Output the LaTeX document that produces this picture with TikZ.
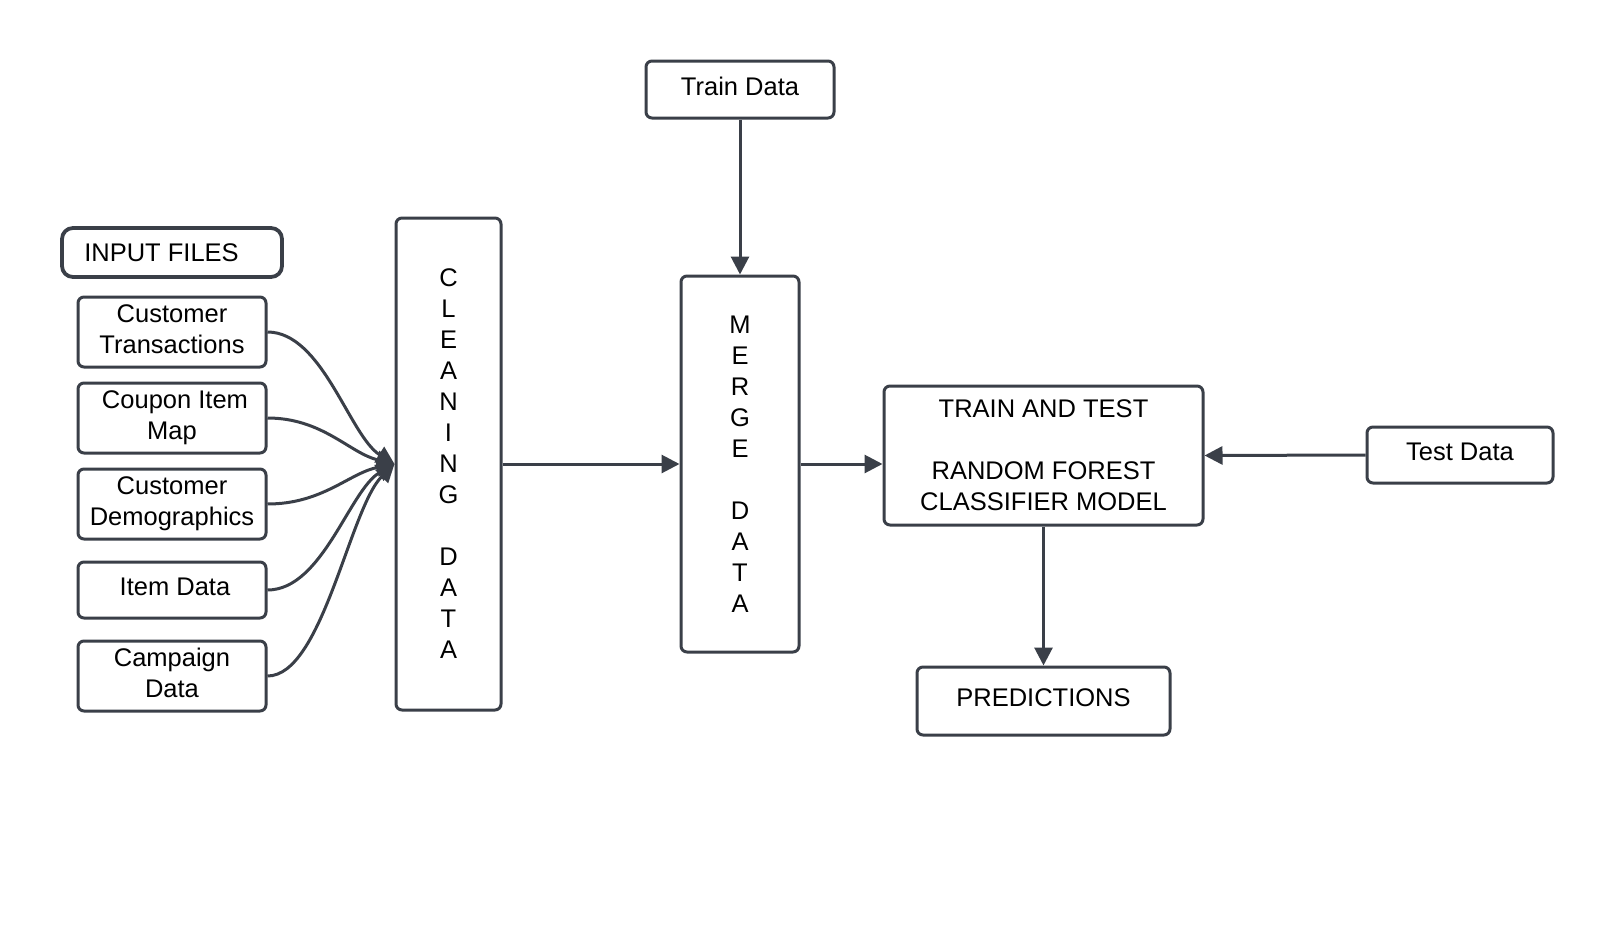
\documentclass[tikz,border=0pt]{standalone}
\usepackage{fontspec}
\setmainfont{Liberation Sans}
\usetikzlibrary{arrows.meta,calc}
\definecolor{ln}{RGB}{58,63,72}
\begin{document}
\begin{tikzpicture}[x=1pt,y=-1pt,
  box/.style={draw=ln,line width=3pt,rounded corners=6pt,fill=white,inner sep=0pt,align=center,
    font=\fontsize{25.5}{31}\selectfont},
  sbox/.style={box,text depth=6pt},
  conn/.style={draw=ln,line width=3pt,-{Triangle[length=18pt,width=18pt]}},
]
\useasboundingbox (0,0) rectangle (1615,929);

\node[box,line width=3.8pt,rounded corners=11pt,minimum width=220pt,minimum height=49pt] (inbox) at (172,252.5) {};
\node[font=\fontsize{25.5}{31}\selectfont,inner sep=0pt] (intext) at (161.5,253) {INPUT FILES};

\node[sbox,minimum width=188pt,minimum height=70pt] (ct) at (172,332) {Customer\\Transactions};
\node[box,minimum width=188pt,minimum height=70pt] (cim) at (172,418) {\hspace*{6pt}Coupon Item\\Map};
\node[box,minimum width=188pt,minimum height=70pt] (cd) at (172,504) {Customer\\Demographics};
\node[sbox,minimum width=188pt,minimum height=56pt] (item) at (172,590) {\hspace*{6pt}Item Data};
\node[sbox,minimum width=188pt,minimum height=70pt] (camp) at (172,676) {Campaign\\Data};

\node[box,minimum width=105pt,minimum height=492pt] (clean) at (448.5,464) {C\\L\\E\\A\\N\\I\\N\\G\\~\\D\\A\\T\\A};

\node[sbox,minimum width=188pt,minimum height=57pt] (train) at (740,89.5) {Train Data};
\node[box,minimum width=118pt,minimum height=376pt] (merge) at (740,464) {M\\E\\R\\G\\E\\~\\D\\A\\T\\A};

\node[box,minimum width=319pt,minimum height=139pt] (tt) at (1043.5,455.5) {TRAIN AND TEST\\~\\RANDOM FOREST\\CLASSIFIER MODEL};
\node[sbox,minimum width=186pt,minimum height=56pt] (test) at (1460,455) {Test Data};
\node[sbox,minimum width=253pt,minimum height=68pt] (pred) at (1043.5,701) {PREDICTIONS};

\draw[conn] (ct.east)   .. controls +(55,0) and +(-45,-28) .. (clean.west);
\draw[conn] (cim.east)  .. controls +(55,0) and +(-45,-11) .. (clean.west);
\draw[conn] (cd.east)   .. controls +(55,0) and +(-45,9)   .. (clean.west);
\draw[conn] (item.east) .. controls +(55,0) and +(-45,26)  .. (clean.west);
\draw[conn] (camp.east) .. controls +(55,0) and +(-45,44)  .. (clean.west);

\draw[conn] (clean.east) -- (merge.west);
\draw[conn] (train.south) -- (merge.north);
\draw[conn] (merge.east) -- (merge.east -| tt.west);
\draw[conn] (test.west) -- (tt.east);
\draw[conn] (tt.south) -- (pred.north);
\end{tikzpicture}
\end{document}
